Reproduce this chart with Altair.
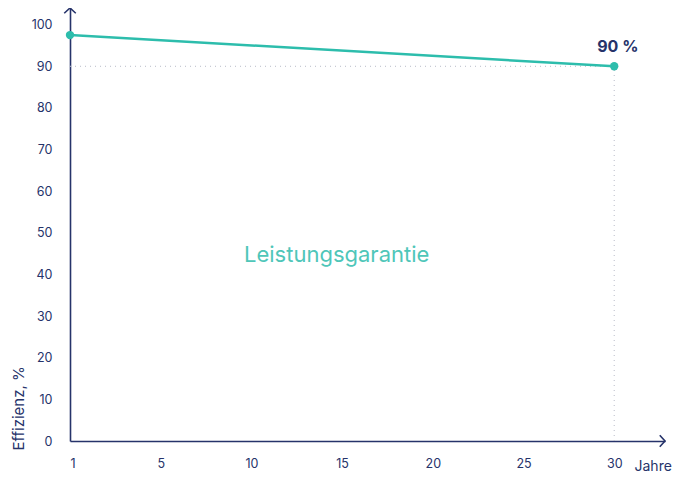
import altair as alt
import pandas as pd

years = [0, 30]          # position 0 is labelled "1"
efficiency = [97.5, 90]
x_ticks = [0, 5, 10, 15, 20, 25, 30]
y_ticks = [0, 10, 20, 30, 40, 50, 60, 70, 80, 90, 100]

NAVY = "#26336a"
TEAL = "#2dbdac"
FONT = "Inter"

df = pd.DataFrame({"x": years, "y": efficiency})

xs = alt.Scale(domain=[0, 32.8], nice=False, zero=False)
ys = alt.Scale(domain=[0, 104], nice=False)

x_axis = alt.Axis(values=x_ticks, labelExpr="datum.value == 0 ? '1' : datum.label",
                  grid=False, ticks=False, tickSize=0, domainColor=NAVY, domainWidth=1.6,
                  labelColor=NAVY, labelFont=FONT, labelFontSize=12.5, labelPadding=16,
                  title="Jahre", titleFont=FONT, titleFontSize=14, titleFontWeight="normal",
                  titleColor=NAVY, titleX=564, titleY=25, titleAlign="left",
                  titleBaseline="middle")
y_axis = alt.Axis(values=y_ticks, grid=False, ticks=False, tickSize=0, domainColor=NAVY,
                  domainWidth=1.6, labelColor=NAVY, labelFont=FONT, labelFontSize=12.5,
                  labelPadding=18, title="Effizienz, %", titleFont=FONT, titleFontSize=15,
                  titleFontWeight="normal", titleColor=NAVY, titleAngle=270,
                  titleAlign="left", titleBaseline="middle", titleX=-52, titleY=442)

base = alt.Chart(df)

line = base.mark_line(color=TEAL, strokeWidth=2.5).encode(
    x=alt.X("x:Q", scale=xs, axis=x_axis),
    y=alt.Y("y:Q", scale=ys, axis=y_axis),
)
pts = base.mark_circle(color=TEAL, size=70, opacity=1).encode(
    x=alt.X("x:Q", scale=xs), y=alt.Y("y:Q", scale=ys))

guide_h = alt.Chart(pd.DataFrame({"x": [0], "x2": [30], "y": [90]})).mark_rule(
    color="#b8bcc8", strokeDash=[1, 4], strokeWidth=1).encode(
    x=alt.X("x:Q", scale=xs), x2="x2:Q", y=alt.Y("y:Q", scale=ys))
guide_v = alt.Chart(pd.DataFrame({"x": [30], "y": [0], "y2": [90]})).mark_rule(
    color="#b8bcc8", strokeDash=[1, 4], strokeWidth=1).encode(
    x=alt.X("x:Q", scale=xs), y=alt.Y("y:Q", scale=ys), y2="y2:Q")

arrow_x = alt.Chart(pd.DataFrame({"x": [32.8], "y": [0]})).mark_point(
    shape="M-1,-1.1L0,0L-1,1.1", filled=False, color=NAVY, size=110, strokeWidth=1.6,
    opacity=1).encode(x=alt.X("x:Q", scale=xs), y=alt.Y("y:Q", scale=ys))
arrow_y = alt.Chart(pd.DataFrame({"x": [0], "y": [104]})).mark_point(
    shape="M-1.1,1L0,0L1.1,1", filled=False, color=NAVY, size=110, strokeWidth=1.6,
    opacity=1).encode(x=alt.X("x:Q", scale=xs), y=alt.Y("y:Q", scale=ys))

label_end = alt.Chart(pd.DataFrame({"x": [30.2], "y": [94.6], "t": ["90 %"]})).mark_text(
    font=FONT, fontSize=16, fontWeight="bold", color=NAVY).encode(
    x=alt.X("x:Q", scale=xs), y=alt.Y("y:Q", scale=ys), text="t:N")
label_mid = alt.Chart(pd.DataFrame({"x": [14.7], "y": [44.7], "t": ["Leistungsgarantie"]})).mark_text(
    font=FONT, fontSize=22, color="#4fc6b9").encode(
    x=alt.X("x:Q", scale=xs), y=alt.Y("y:Q", scale=ys), text="t:N")

chart = alt.layer(guide_h, guide_v, line, pts, arrow_x, arrow_y, label_end, label_mid).properties(
    width=595, height=433, background="white",
    autosize=alt.AutoSizeParams(type="none"),
    padding={"left": 62, "top": 0, "right": 8, "bottom": 34},
).configure_view(strokeWidth=0, stroke=None)

chart.save("out.html", embed_options={"renderer": "svg", "actions": False})
